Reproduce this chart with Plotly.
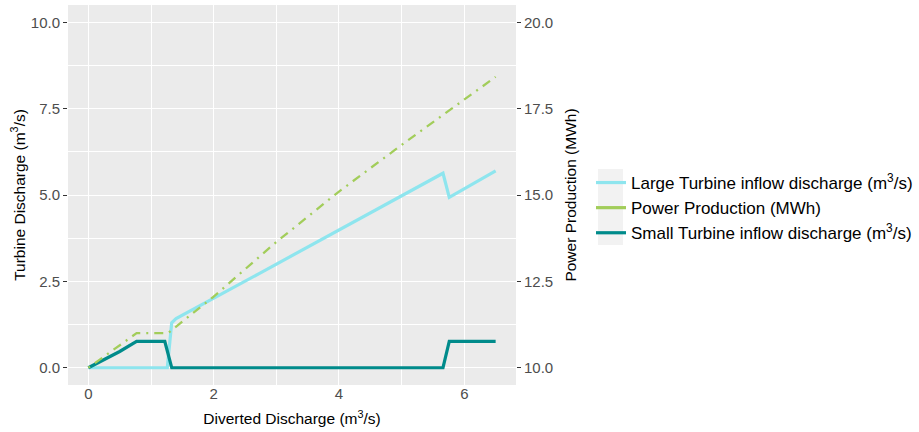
import plotly.graph_objects as go

# ---- data ----
x_small = [0, 0.5, 0.77, 1.22, 1.33, 5.66, 5.76, 6.5]
small_turbine = [0, 0.47, 0.76, 0.76, 0, 0, 0.76, 0.76]

x_large = [0, 1.26, 1.33, 1.4, 2.74, 4.0, 5.66, 5.76, 6.5]
large_turbine = [0, 0, 1.3, 1.42, 2.74, 3.99, 5.63, 4.93, 5.70]

x_power = [0, 0.5, 0.77, 1.27, 1.57, 2.0, 3.0, 4.0, 5.0, 6.0, 6.5]
power_mwh = [10, 10.66, 11.0, 11.0, 11.44, 12.06, 13.64, 15.10, 16.45, 17.75, 18.42]

x_ticks = [0, 2, 4, 6]
left_ticks = [0, 2.5, 5, 7.5, 10]
right_ticks = [10, 12.5, 15, 17.5, 20]

names = ["Large Turbine inflow discharge (m<sup>3</sup>/s)",
         "Power Production (MWh)",
         "Small Turbine inflow discharge (m<sup>3</sup>/s)"]
colors = ["#8EE5EE", "#A2CD5A", "#008B8B"]

W, H = 919, 432
PL, PR, PT, PB = 68, 516, 5, 385

fig = go.Figure()
fig.add_trace(go.Scatter(x=x_large, y=large_turbine, mode="lines", name=names[0],
                         line=dict(color=colors[0], width=3.2), legendrank=1))
fig.add_trace(go.Scatter(x=x_power, y=power_mwh, mode="lines", name=names[1], yaxis="y2",
                         line=dict(color=colors[1], width=2.3, dash="2px,6px,9px,6px"),
                         showlegend=False))
# legend key for power (solid short key as in reference)
fig.add_trace(go.Scatter(x=[None], y=[None], mode="lines", name=names[1], yaxis="y2",
                         line=dict(color=colors[1], width=3.2), legendrank=2))
fig.add_trace(go.Scatter(x=x_small, y=small_turbine, mode="lines", name=names[2],
                         line=dict(color=colors[2], width=3.2), legendrank=3))

def px_x(p):
    return (p - PL) / (PR - PL)

def px_y(p):
    return (PB - p) / (PB - PT)

tickfont = dict(family="Liberation Sans, Arial", size=15, color="#4D4D4D")
titlefont = dict(family="Liberation Sans, Arial", size=15.5, color="black")

fig.update_layout(
    width=W, height=H,
    margin=dict(l=PL, r=W - PR, t=PT, b=H - PB, autoexpand=False),
    paper_bgcolor="white",
    plot_bgcolor="#EBEBEB",
    font=dict(family="Liberation Sans, Arial", color="black"),
    xaxis=dict(range=[-0.325, 6.825], tickvals=x_ticks, ticktext=[str(v) for v in x_ticks],
               showgrid=True, gridcolor="white", gridwidth=1.1,
               minor=dict(dtick=1, tick0=0, showgrid=True, gridcolor="white", gridwidth=0.5),
               zeroline=False, showline=False, ticks="", tickfont=tickfont,
               ticklabelstandoff=-2,
               title=dict(text="Diverted Discharge (m<sup>3</sup>/s)", font=titlefont, standoff=12)),
    yaxis=dict(range=[-0.5, 10.5], tickvals=left_ticks, ticktext=["%.1f" % v for v in left_ticks],
               showgrid=True, gridcolor="white", gridwidth=1.1,
               minor=dict(dtick=1.25, tick0=0, showgrid=True, gridcolor="white", gridwidth=0.5),
               zeroline=False, showline=False, ticks="outside", ticklen=4, tickwidth=1,
               tickcolor="#333333", tickfont=tickfont,
               title=dict(text="Turbine Discharge (m<sup>3</sup>/s)", font=titlefont, standoff=1)),
    yaxis2=dict(range=[9.5, 20.5], overlaying="y", side="right",
                tickvals=right_ticks, ticktext=["%.1f" % v for v in right_ticks],
                showgrid=False, zeroline=False, showline=False,
                ticks="outside", ticklen=4, tickwidth=1, tickcolor="#333333", tickfont=tickfont,
                title=dict(text="Power Production (MWh)", font=titlefont, standoff=12)),
    legend=dict(x=px_x(591), xanchor="left", y=px_y(208), yanchor="middle",
                bgcolor="rgba(0,0,0,0)", borderwidth=0,
                font=dict(family="Liberation Sans, Arial", size=17, color="black"),
                itemwidth=30, tracegroupgap=0),
    shapes=[dict(type="rect", xref="paper", yref="paper",
                 x0=px_x(598), x1=px_x(623), y0=px_y(245), y1=px_y(169),
                 fillcolor="#F2F2F2", line=dict(width=0), layer="below")],
    showlegend=True,
)

fig.write_html("out.html", config={"displayModeBar": False},
               post_script="document.body.style.margin='0px';")
